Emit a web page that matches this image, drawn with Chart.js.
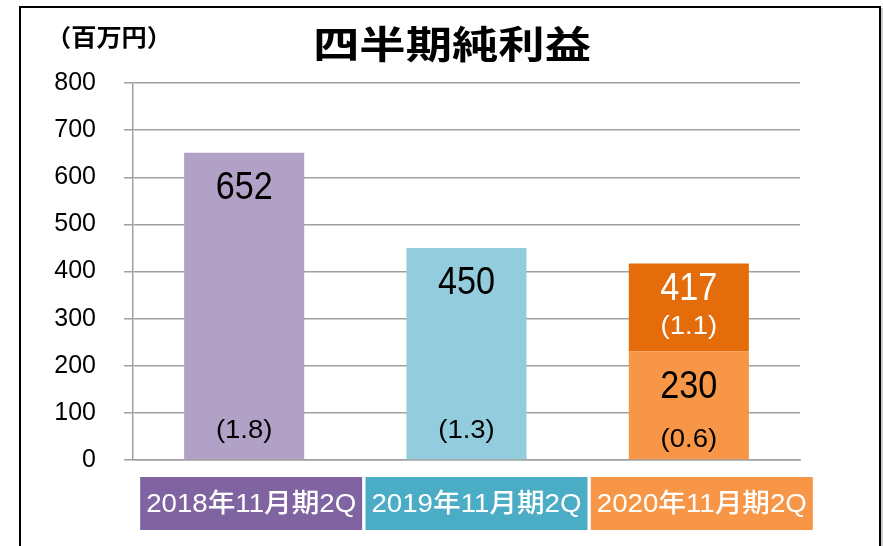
<!DOCTYPE html>
<html><head><meta charset="utf-8">
<script src="https://cdn.jsdelivr.net/npm/chart.js@4"></script>
<style>html,body{margin:0;padding:0;background:#fff}#wrap{width:883px;height:546px}</style>
</head><body><div id="wrap"><canvas id="c" width="883" height="546"></canvas></div>
<script>
// ---- data ----
const categories = ['2018年11月期2Q', '2019年11月期2Q', '2020年11月期2Q'];
const baseValues = [652, 450, 230];
const extraValues = [null, null, 187];           // 417 - 230
const baseValueLabels = ['652', '450', '230'];
const totalValueLabels = [null, null, '417'];
const basePctLabels = ['(1.8)', '(1.3)', '(0.6)'];
const topPctLabels = [null, null, '(1.1)'];
const yMin = 0, yMax = 800, yStep = 100;
const chartTitle = '四半期純利益';
const unitLabel = '（百万円）';

// ---- styles ----
const baseColors = ['#B2A1C7', '#93CDDD', '#F79646'];
const extraColor = '#E46C0A';
const boxColors = ['#8064A2', '#4BACC6', '#F79646'];
const gridColor = '#A0A0A0';
const numFont = '"Liberation Sans", Arial, sans-serif';
const jpFont = '"Noto Sans CJK JP", "Noto Sans", sans-serif';
const mixFont = '"Liberation Sans", "Noto Sans CJK JP", sans-serif';

function drawScaled(ctx, text, x, y, sx) {
  ctx.save();
  ctx.translate(x, y);
  ctx.scale(sx, 1);
  ctx.fillText(text, 0, 0);
  ctx.restore();
}

const decor = {
  id: 'decor',
  afterDraw(chart) {
    const ctx = chart.ctx;
    const ca = chart.chartArea;
    const xs = chart.scales.x;
    ctx.save();
    // outer frame
    ctx.strokeStyle = '#000';
    ctx.lineWidth = 2;
    ctx.strokeRect(20, 7, 860, 600);
    ctx.strokeStyle = '#9a9a9a';
    ctx.lineWidth = 1;
    ctx.beginPath(); ctx.moveTo(882, 8); ctx.lineTo(882, 546); ctx.stroke();

    // title
    ctx.fillStyle = '#000';
    ctx.textAlign = 'center';
    ctx.textBaseline = 'middle';
    ctx.font = 'bold 38px ' + jpFont;
    drawScaled(ctx, chartTitle, 452, 44, 1.22);
    // unit
    ctx.font = 'bold 24px ' + jpFont;
    drawScaled(ctx, unitLabel, 109, 37, 1.05);

    // category label boxes
    categories.forEach((c, i) => {
      const x = xs.getPixelForValue(i);
      const left = x - 104 + i * 3;
      const w = 222;
      const top = ca.bottom + 17;
      const h = 53;
      ctx.fillStyle = boxColors[i];
      ctx.fillRect(left, top, w, h);
      ctx.fillStyle = '#fff';
      ctx.font = '500 26px ' + mixFont;
      const tw = ctx.measureText(c).width;
      drawScaled(ctx, c, left + w / 2, top + h / 2 + 1, 210 / tw);
    });

    // bar labels
    const m0 = chart.getDatasetMeta(0);
    const m1 = chart.getDatasetMeta(1);
    m0.data.forEach((bar, i) => {
      const hasTop = totalValueLabels[i] != null;
      ctx.fillStyle = '#000';
      ctx.font = '38px ' + numFont;
      drawScaled(ctx, baseValueLabels[i], bar.x, bar.y + 36, 0.9);
      ctx.font = '25px ' + numFont;
      drawScaled(ctx, basePctLabels[i], bar.x, bar.base - (hasTop ? 19 : 28), 1.1);
    });
    m1.data.forEach((bar, i) => {
      if (totalValueLabels[i] == null) return;
      ctx.fillStyle = '#fff';
      ctx.font = '38px ' + numFont;
      drawScaled(ctx, totalValueLabels[i], bar.x, bar.y + 26, 0.9);
      ctx.font = '25px ' + numFont;
      drawScaled(ctx, topPctLabels[i], bar.x, bar.y + 64, 1.1);
    });
    ctx.restore();
  }
};

new Chart(document.getElementById('c'), {
  type: 'bar',
  data: {
    labels: categories,
    datasets: [
      { data: baseValues, backgroundColor: baseColors, barPercentage: 0.54, categoryPercentage: 1, borderWidth: 0 },
      { data: extraValues, backgroundColor: extraColor, barPercentage: 0.54, categoryPercentage: 1, borderWidth: 0 }
    ]
  },
  options: {
    responsive: false,
    animation: false,
    devicePixelRatio: 1,
    layout: { padding: { top: 83, right: 83, left: 0, bottom: 0 } },
    plugins: { legend: { display: false }, title: { display: false }, tooltip: { enabled: false } },
    scales: {
      x: {
        stacked: true,
        grid: { display: false },
        border: { display: true, color: gridColor, width: 1.5 },
        ticks: { display: false },
        afterFit: s => { s.height = 86; }
      },
      y: {
        stacked: true,
        min: yMin, max: yMax,
        ticks: { stepSize: yStep, color: '#000', font: { family: numFont, size: 25 }, padding: 28 },
        grid: { color: gridColor, lineWidth: 1.5, tickLength: 9 },
        border: { display: true, color: gridColor, width: 1.5 },
        afterFit: s => { s.width = 133; }
      }
    }
  },
  plugins: [decor]
});
</script>
</body></html>
